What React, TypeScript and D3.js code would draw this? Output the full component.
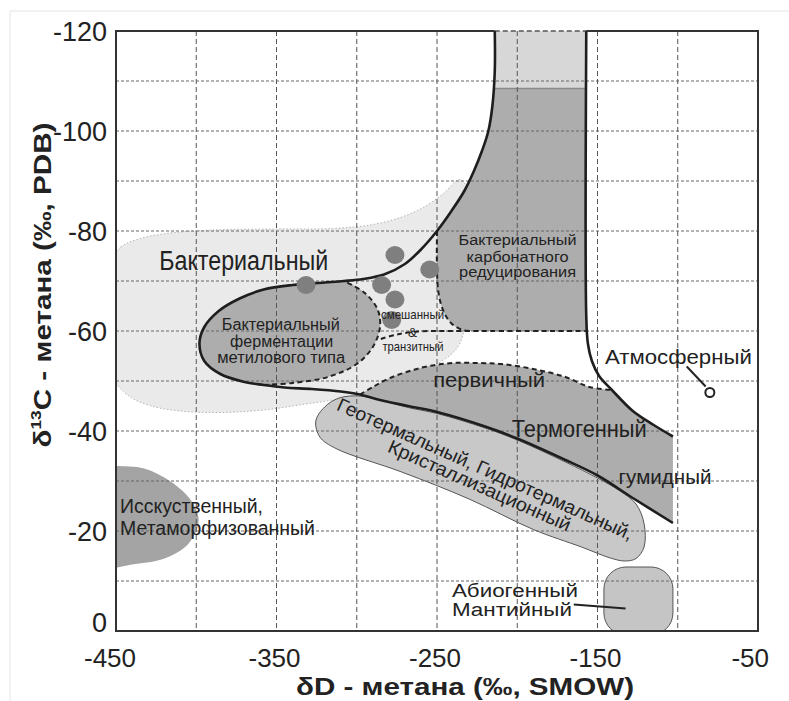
import React from 'react';
import * as d3 from 'd3';

type Pt = [number, number];

// axis ticks
const xTicks = [-450, -350, -250, -150, -50];
const xGrid = [-400, -350, -300, -250, -200, -150, -100];
const yTicks = [-120, -100, -80, -60, -40, -20, 0];
const yGrid = [-110, -100, -90, -80, -70, -60, -50, -40, -30, -20, -10];

// outer bacterial boundary (thick line), split in three legs
const boundaryUpper: Pt[] = [[-214, -120], [-214, -112], [-215.5, -105], [-218, -100], [-222, -96], [-227, -92], [-233, -88], [-241, -84], [-250, -80], [-260, -76.3], [-270, -73.4], [-283, -71.3], [-296, -70.4]];
const boundaryLoop: Pt[] = [[-308, -70], [-320, -69.7], [-340, -69.2], [-358, -68.3], [-373, -66.5], [-386, -64], [-395, -60.8], [-398, -57.5], [-395, -54], [-385, -51.4], [-370, -49.8], [-358, -49.2]];
const boundaryLower: Pt[] = [[-345, -48.7], [-328, -48.4], [-310, -47.9], [-298, -47.3], [-288, -46.4], [-268, -45], [-250, -43.8], [-220, -40.9], [-200, -38.5], [-170, -34.2], [-150, -31.1], [-127, -26.4], [-103, -21.6]];
// right boundary (atmospheric side)
const rightBoundary: Pt[] = [[-157, -120], [-157, -63], [-156, -57.5], [-153.5, -54], [-149, -51], [-141, -48.2], [-128, -44], [-115, -41.2], [-103, -38.9]];

// dashed limits
const fermDashed: Pt[] = [[-358, -49.2], [-340, -49.6], [-318, -50.8], [-300, -53.4], [-290, -56.8], [-285.5, -60.8], [-287, -64.3], [-295, -67.6], [-308, -70]];
const primaryDashed: Pt[] = [[-298, -47.3], [-290, -48.8], [-280, -50.5], [-268, -51.9], [-255, -53], [-240, -53.6], [-225, -53.6], [-210, -53.4], [-190, -52.4], [-170, -50.8], [-155, -48.8], [-141, -48.2]];
const carbLeft: Pt[] = [[-250, -80], [-250, -72], [-249, -67.5], [-246, -64], [-241, -61.5], [-234, -60.2], [-229, -60]];
const mixedBottom: Pt[] = [[-285, -58.4], [-275, -59.3], [-262, -59.9], [-245, -60], [-157, -60]];

// fields
const bacterialField: Pt[] = [[-453, -74], [-447, -76.8], [-438, -78.2], [-421, -79.4], [-390, -80.2], [-350, -80.4], [-315, -80.5], [-290, -81.3], [-272, -82.8], [-258, -84.8], [-246, -87.5], [-236, -90.3], [-232, -89], [-234, -84], [-233.5, -75], [-233, -65], [-234, -59], [-239, -56], [-250, -53.4], [-262, -51.6], [-285, -48.6], [-310, -46.5], [-334, -45.3], [-355, -44.3], [-375, -43.8], [-392, -43.7], [-410, -44], [-428, -45], [-442, -47], [-452, -51]];
const artificialField: Pt[] = [[-458, -33], [-450, -33], [-432.5, -32.5], [-416, -29.9], [-403, -26], [-398.5, -22], [-405, -17.4], [-419, -14.6], [-438, -13.4], [-458, -13.2]];
const geothermalField: Pt[] = [[-320, -44.8], [-311, -46.6], [-298, -47], [-285, -46.2], [-268, -44.7], [-250, -43.5], [-220, -40.6], [-200, -38.2], [-170, -33.8], [-150, -30.6], [-136, -28], [-126, -25.4], [-121, -21.5], [-121, -16.8], [-126, -14.5], [-133, -14], [-142, -14.6], [-160, -16.8], [-190, -20.3], [-230, -26.4], [-272, -31.8], [-313, -36.5], [-323, -38.8], [-325.5, -42]];
const topBox = { d0: -214, d1: -157, c0: -120, c1: -108.5 };
const abiogenicBox = { d0: -146, d1: -103, c0: -12.8, c1: 0.8 };

// samples
const sampleD = [-331.6, -276.2, -254.5, -284.5, -276.2, -278.2];
const sampleC = [-69.2, -75.2, -72.3, -69.2, -66.3, -62.2];
const atmosphere: Pt = [-80, -47.7];

// labels: text, δD, δ13C, width, font size, anchor
const labels: [string, number, number, number, number, string][] = [
  ['Бактериальный', -370.4, -72.3, 169, 27, 'middle'],
  ['Бактериальный', -347.3, -60.3, 118, 16, 'middle'],
  ['ферментации', -346.8, -56.9, 103, 16, 'middle'],
  ['метилового типа', -347.1, -53.7, 128, 16, 'middle'],
  ['смешанный', -265.2, -62.4, 63, 13, 'middle'],
  ['&', -265.2, -58.9, 9, 13, 'middle'],
  ['транзитный', -265, -56.1, 61, 13, 'middle'],
  ['Бактериальный', -199.8, -77.2, 118, 14, 'middle'],
  ['карбонатного', -199.8, -73.9, 102, 14, 'middle'],
  ['редуцирования', -199.8, -70.9, 117, 14, 'middle'],
  ['Атмосферный', -99.6, -53.5, 147, 20, 'middle'],
  ['первичный', -217.5, -48.9, 112, 21, 'middle'],
  ['Термогенный', -161.4, -38.9, 135, 24, 'middle'],
  ['гумидный', -107.9, -29.5, 93, 20, 'middle'],
  ['Исскуственный,', -447.5, -23.6, 143, 20, 'start'],
  ['Метаморфизованный', -447.5, -19.3, 195, 20, 'start'],
  ['Абиогенный', -240.7, -6.9, 126, 18, 'start'],
  ['Мантийный', -240.7, -3.0, 120, 18, 'start'],
];
const rotatedLabels: [string, number, number, number][] = [
  ['Геотермальный, Гидротермальный,', -221.6, -31.2, 322],
  ['Кристаллизационный', -225.1, -27.9, 198],
];

const W = 789;
const H = 701;
const x = d3.scaleLinear().domain([-450, -50]).range([116, 758]);
const y = d3.scaleLinear().domain([-120, 0]).range([31, 631]);

const smooth = d3.line<Pt>().x(d => x(d[0])).y(d => y(d[1])).curve(d3.curveCatmullRom.alpha(0.5));
const smoothClosed = d3.line<Pt>().x(d => x(d[0])).y(d => y(d[1])).curve(d3.curveCatmullRomClosed.alpha(0.5));
const straight = d3.line<Pt>().x(d => x(d[0])).y(d => y(d[1]));
const join = (...ds: string[]) => ds.map((d, i) => (i === 0 ? d : d.replace(/^M/, 'L'))).join('') + 'Z';

const FONT = 'Liberation Sans, Arial, sans-serif';
const DARK = '#adadad';

export default function App() {
  const boundary = [...boundaryUpper, ...boundaryLoop, ...boundaryLower];
  const fermFill = smoothClosed([...boundaryLoop, ...fermDashed.slice(1, -1)]) as string;
  const thermoFill = join(
    smooth(primaryDashed) as string,
    smooth(rightBoundary.slice(5)) as string,
    straight([[-103, -38.9], [-103, -21.6]]) as string,
    smooth(boundaryLower.filter(p => p[0] >= -298).reverse()) as string,
  );
  const carbFill = join(
    smooth(carbLeft) as string,
    straight([[-229, -60], [-157, -60], [-157, topBox.c1], [-214.6, topBox.c1]]) as string,
    smooth([[-214.6, topBox.c1], ...boundaryUpper.slice(2, 9)]) as string,
  );

  return (
    <svg width={W} height={H} style={{ position: 'absolute', left: 0, top: 0, background: '#fff' }} fontFamily={FONT}>
      <defs>
        <clipPath id="plot">
          <rect x={x(-450)} y={y(-120)} width={x(-50) - x(-450)} height={y(0) - y(-120)} />
        </clipPath>
      </defs>
      <rect x={0} y={0} width={W} height={H} fill="#fff" />
      <path d={`M10,${H}V11H${W}`} fill="none" stroke="#e4e4e4" />

      <g clipPath="url(#plot)">
        <path d={smoothClosed(bacterialField) as string} fill="#eaeaea" stroke="#b5b5b5" strokeWidth={1} strokeDasharray="1.5,2" />
        <path d={smoothClosed(artificialField) as string} fill="#a4a4a4" />
        <rect x={x(topBox.d0)} y={y(topBox.c0)} width={x(topBox.d1) - x(topBox.d0)} height={y(topBox.c1) - y(topBox.c0)} fill="#d7d7d7" />
        <path d={carbFill} fill={DARK} />
        <line x1={x(topBox.d0)} x2={x(topBox.d1)} y1={y(topBox.c1)} y2={y(topBox.c1)} stroke="#8a8a8a" strokeWidth={1.5} />
        <path d={fermFill} fill={DARK} />
        <path d={thermoFill} fill={DARK} />
        <path d={smoothClosed(geothermalField) as string} fill="#c8c8c8" stroke="#555" strokeWidth={1} />
        <rect x={x(abiogenicBox.d0)} y={y(abiogenicBox.c0)} width={x(abiogenicBox.d1) - x(abiogenicBox.d0)} height={y(abiogenicBox.c1) - y(abiogenicBox.c0)} rx={22} ry={22} fill="#c5c5c5" stroke="#555" strokeWidth={1} />
      </g>

      {xGrid.map(v => (
        <line key={'gx' + v} x1={x(v)} x2={x(v)} y1={y(-120)} y2={y(0)} stroke="#555" strokeWidth={1} strokeDasharray="5,3" />
      ))}
      {yGrid.map(v => (
        <line key={'gy' + v} x1={x(-450)} x2={x(-50)} y1={y(v)} y2={y(v)} stroke="#666" strokeWidth={1} strokeDasharray="3,2" />
      ))}

      <g fill="none" stroke="#222" strokeWidth={2} strokeDasharray="5,3.5">
        <path d={smooth(fermDashed) as string} />
        <path d={smooth(primaryDashed) as string} />
        <path d={smooth(carbLeft) as string} />
        <path d={smooth(mixedBottom) as string} />
      </g>
      <line x1={x(topBox.d0)} x2={x(topBox.d1)} y1={y(-120)} y2={y(-120)} stroke="#555" strokeWidth={1.5} strokeDasharray="5,3" />

      <path d={smooth(boundary) as string} fill="none" stroke="#1e1e1e" strokeWidth={2.6} />
      <path d={smooth(rightBoundary) as string} fill="none" stroke="#1e1e1e" strokeWidth={2.6} />

      {sampleD.map((d, i) => (
        <ellipse key={'s' + i} cx={x(d)} cy={y(sampleC[i])} rx={9.5} ry={9} fill="#7f7f7f" />
      ))}

      <path
        d={`M${x(-214)},${y(-120)}H${x(-450)}V${y(0)}H${x(-50)}V${y(-120)}H${x(-157)}`}
        fill="none" stroke="#333" strokeWidth={2}
      />

      {labels.map(([t, d, c, w, fs, anchor], i) => (
        <text key={'l' + i} x={x(d)} y={y(c)} fontSize={fs} textAnchor={anchor} fill="#222"
          textLength={w} lengthAdjust="spacingAndGlyphs">{t}</text>
      ))}
      {rotatedLabels.map(([t, d, c, w], i) => (
        <text key={'r' + i} transform={`translate(${x(d)},${y(c)}) rotate(24)`} fontSize={19} textAnchor="middle" fill="#222"
          textLength={w} lengthAdjust="spacingAndGlyphs">{t}</text>
      ))}

      <line x1={x(-94.4)} y1={y(-52.9)} x2={x(-82.6)} y2={y(-48.9)} stroke="#222" strokeWidth={2} />
      <circle cx={x(atmosphere[0])} cy={y(atmosphere[1])} r={4.5} fill="#fff" stroke="#222" strokeWidth={2} />
      <line x1={x(-164.8)} y1={y(-5.3)} x2={x(-132.5)} y2={y(-4.5)} stroke="#222" strokeWidth={2} />

      {yTicks.map(v => (
        <text key={'yt' + v} x={107} y={Math.min(y(v) + 10, 632)} fontSize={27} textAnchor="end" fill="#222">{v}</text>
      ))}
      {xTicks.map((v, i) => (
        <text key={'xt' + v} x={i === xTicks.length - 1 ? 769 : x(v) - (i === 0 ? 6 : 2)} y={667} fontSize={26}
          textAnchor={i === xTicks.length - 1 ? 'end' : 'middle'} fill="#222">{v}</text>
      ))}

      <text x={465} y={695} fontSize={23} fontWeight="bold" textAnchor="middle" fill="#222" textLength={338} lengthAdjust="spacingAndGlyphs">
        δD - метана (‰, SMOW)
      </text>
      <text transform="translate(51,285) rotate(-90)" fontSize={24} fontWeight="bold" textAnchor="middle" fill="#222"
        textLength={325} lengthAdjust="spacingAndGlyphs">
        δ<tspan fontSize={14} dy={-10}>13</tspan><tspan dy={10}>C - метана (‰, PDB)</tspan>
      </text>
    </svg>
  );
}
